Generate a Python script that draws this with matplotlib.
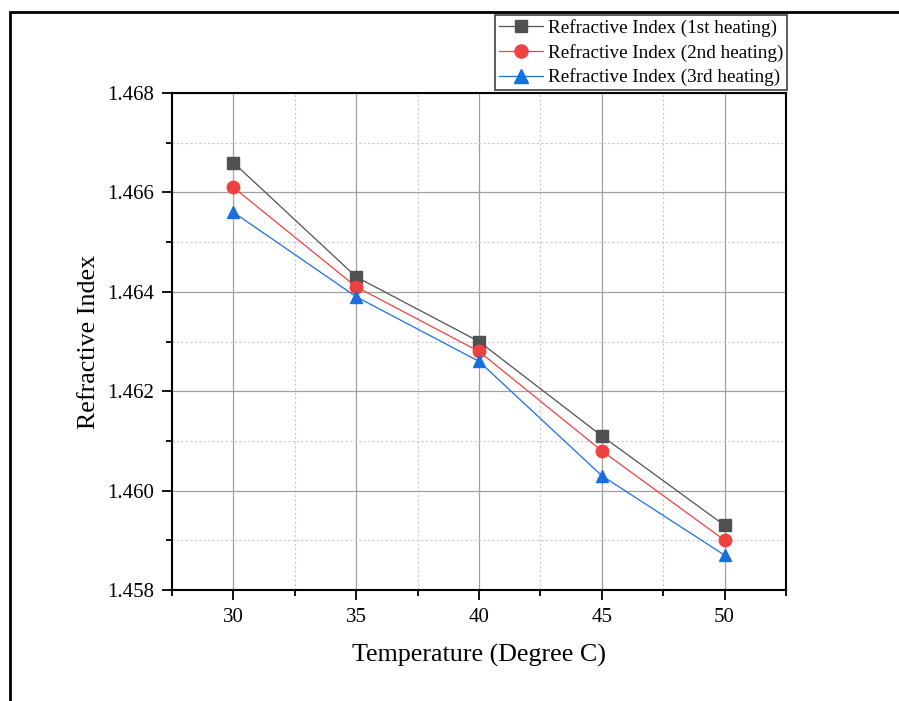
#!/usr/bin/env python

import matplotlib
matplotlib.use('Agg')
import matplotlib.pyplot as plt
from matplotlib.ticker import MultipleLocator, FormatStrFormatter
from matplotlib.patches import Rectangle

plt.rcParams['font.family'] = ['Liberation Serif', 'DejaVu Serif']

#Values
temps = [30, 35, 40, 45, 50]
ri_1st = [1.4666, 1.4643, 1.4630, 1.4611, 1.4593]
ri_2nd = [1.4661, 1.4641, 1.4628, 1.4608, 1.4590]
ri_3rd = [1.4656, 1.4639, 1.4626, 1.4603, 1.4587]
labels = ['Refractive Index (1st heating)',
          'Refractive Index (2nd heating)',
          'Refractive Index (3rd heating)']

fig = plt.figure(figsize=(8.99, 7.01), dpi=100)
ax = fig.add_axes([172/899, 1 - 590/701, (786 - 172)/899, (590 - 93)/701])

ax.plot(temps, ri_1st, color='#515151', lw=0.9, marker='s', ms=8, label=labels[0])
ax.plot(temps, ri_2nd, color='#F14040', lw=0.9, marker='o', ms=9, label=labels[1])
ax.plot(temps, ri_3rd, color='#1A6FDF', lw=0.9, marker='^', ms=9, label=labels[2])

ax.set_xlim(27.5, 52.5)
ax.set_ylim(1.458, 1.468)
ax.xaxis.set_major_locator(MultipleLocator(5))
ax.xaxis.set_minor_locator(MultipleLocator(2.5))
ax.yaxis.set_major_locator(MultipleLocator(0.002))
ax.yaxis.set_minor_locator(MultipleLocator(0.001))
ax.yaxis.set_major_formatter(FormatStrFormatter('%.3f'))

ax.grid(which='major', color='#a0a0a0', lw=0.9, ls='-')
ax.grid(which='minor', color='#c8c8c8', lw=0.8, ls=(0, (2, 2)))
ax.set_axisbelow(True)

ax.tick_params(which='both', direction='out', width=1.3, labelsize=15)
ax.tick_params(which='major', length=7, pad=6)
ax.tick_params(which='minor', length=4)
for sp in ax.spines.values():
    sp.set_linewidth(1.5)

ax.set_xlabel('Temperature (Degree C)', fontsize=18.7, labelpad=12)
ax.set_ylabel('Refractive Index', fontsize=18.7, labelpad=5)

leg = ax.legend(loc='upper right', bbox_to_anchor=(1.002, 1 + 78/497),
                fontsize=13.8, frameon=True, fancybox=False, edgecolor='#222222',
                borderpad=0.2, labelspacing=0.36, handlelength=2.3,
                handletextpad=0.25, borderaxespad=0, markerscale=1.05)
leg.get_frame().set_linewidth(1.3)

#Outer frame, only top and left edges visible
fig.patches.append(Rectangle((10/899, -0.1), 1.2, 1 - 12/701 + 0.1,
                             transform=fig.transFigure, fill=False,
                             edgecolor='black', lw=2))

fig.savefig('out.png', dpi=100)
